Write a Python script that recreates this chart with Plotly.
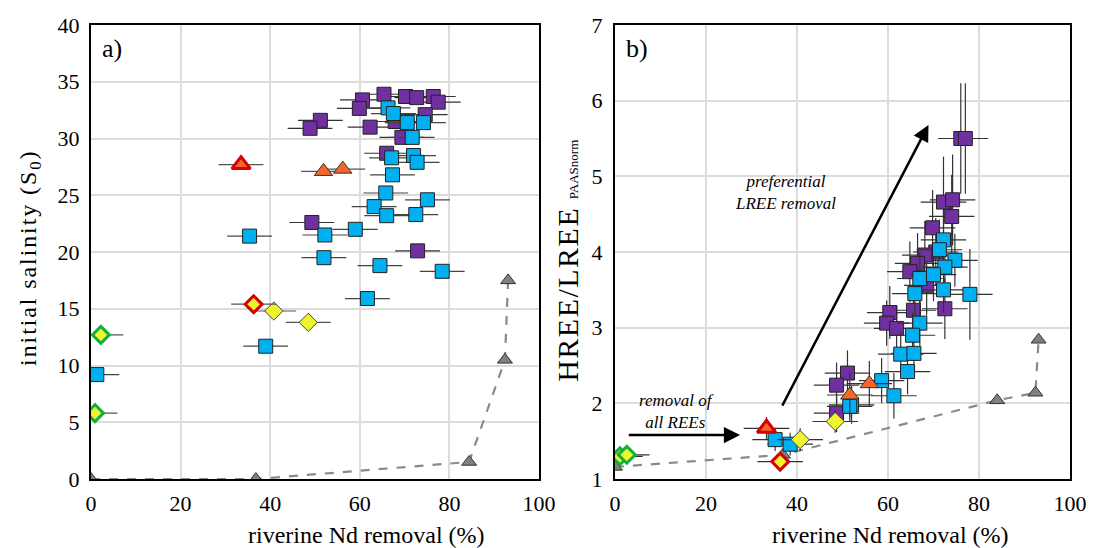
import plotly.graph_objects as go

# ---------------- panel a: initial salinity vs riverine Nd removal ----------------
a_purple_x = [51.2, 48.9, 60.6, 59.9, 65.4, 70.2, 72.7, 76.4, 77.5, 62.3, 74.6, 67.9, 69.4, 66.0, 49.3, 72.9]
a_purple_y = [31.6, 30.9, 33.4, 32.65, 33.9, 33.7, 33.6, 33.7, 33.2, 31.0, 32.1, 31.5, 30.1, 28.7, 22.6, 20.1]

a_blue_x = [66.3, 67.5, 70.6, 74.2, 71.7, 67.1, 72.0, 72.8, 67.3, 65.8, 75.1, 63.2, 66.0, 72.5,
            59.0, 52.2, 52.0, 64.5, 78.4, 61.7, 35.4, 39.0, 1.3]
a_blue_y = [32.7, 32.2, 31.4, 31.4, 30.1, 28.3, 28.5, 27.9, 26.8, 25.2, 24.6, 24.0, 23.2, 23.3,
            22.0, 21.5, 19.5, 18.8, 18.3, 15.9, 21.4, 11.7, 9.2]

a_orange_x = [51.9, 56.2]
a_orange_y = [27.1, 27.3]
a_redtri_x = [33.5]
a_redtri_y = [27.7]
a_yellow_x = [40.8, 48.5]
a_yellow_y = [14.8, 13.8]
a_reddia_x = [36.3]
a_reddia_y = [15.4]
a_green_x = [2.2, 0.9]
a_green_y = [12.7, 5.8]
a_model_x = [0.0, 36.8, 84.4, 92.4, 93.1]
a_model_y = [0.0, 0.0, 1.5, 10.5, 17.5]
a_err_x = 5.0

# ---------------- panel b: HREE/LREE vs riverine Nd removal ----------------
b_purple_x = [76.0, 77.0, 72.2, 74.2, 74.0, 69.8, 70.5, 68.1, 66.5, 64.8, 68.5, 60.4, 65.6, 72.5,
              59.7, 61.9, 51.1, 48.7, 48.7]
b_purple_y = [5.50, 5.50, 4.66, 4.69, 4.47, 4.32, 4.00, 3.96, 3.85, 3.74, 3.56, 3.20, 3.23, 3.25,
              3.06, 2.99, 2.40, 2.24, 1.87]
b_purple_ey = [0.73, 0.73, 0.60, 0.60, 0.55, 0.50, 0.45, 0.45, 0.40, 0.40, 0.40, 0.35, 0.35, 0.40,
               0.30, 0.30, 0.30, 0.30, 0.25]

b_blue_x = [72.2, 71.3, 74.7, 72.5, 67.0, 70.0, 78.0, 65.9, 72.2, 67.0, 65.4, 62.8, 65.7, 64.3,
            58.6, 61.3, 52.0, 51.6, 35.2, 38.5]
b_blue_y = [4.16, 4.03, 3.89, 3.80, 3.65, 3.70, 3.44, 3.45, 3.50, 3.06, 2.90, 2.65, 2.66, 2.42,
            2.30, 2.10, 1.98, 1.96, 1.52, 1.46]
b_blue_ey = [0.40, 0.40, 0.35, 0.35, 0.35, 0.35, 0.60, 0.30, 0.30, 0.30, 0.30, 0.30, 0.25, 0.30,
             0.30, 0.30, 0.25, 0.20, 0.15, 0.15]

b_orange_x = [55.9, 51.6]
b_orange_y = [2.26, 2.11]
b_orange_ey = [0.30, 0.30]
b_redtri_x = [33.3]
b_redtri_y = [1.67]
b_yellow_x = [40.7, 48.4]
b_yellow_y = [1.52, 1.76]
b_reddia_x = [36.3]
b_reddia_y = [1.23]
b_green_x = [1.1, 2.6]
b_green_y = [1.30, 1.32]
b_model_x = [0.0, 36.9, 84.0, 92.4, 93.1]
b_model_y = [1.16, 1.32, 2.04, 2.14, 2.84]
b_err_x = 5.0

PURPLE = "#7030a0"
BLUE = "#00b0f0"
ORANGE = "#f4662a"
YELLOW = "#eef52e"
GRAY = "#808080"
RED = "#d80000"
GREEN = "#10b040"
FONT = "Liberation Serif"

fig = go.Figure()


def add(x, y, xa, ya, symbol, size, fill, line_color, line_w, ex=None, ey=None, ecolor="#333"):
    kw = {}
    if ex is not None:
        kw["error_x"] = dict(type="constant", value=ex, color=ecolor, thickness=1.2, width=0)
    if ey is not None:
        kw["error_y"] = dict(type="data", array=ey, color=ecolor, thickness=1.2, width=0)
    fig.add_trace(go.Scatter(
        x=x, y=y, xaxis=xa, yaxis=ya, mode="markers", showlegend=False, hoverinfo="skip",
        marker=dict(symbol=symbol, size=size, color=fill, line=dict(color=line_color, width=line_w)),
        **kw))


# model curves (dashed) with grey triangles
for mx, my, xa, ya in [(a_model_x, a_model_y, "x", "y"), (b_model_x, b_model_y, "x2", "y2")]:
    fig.add_trace(go.Scatter(x=mx, y=my, xaxis=xa, yaxis=ya, mode="lines", showlegend=False,
                             hoverinfo="skip", line=dict(color="#8a8a8a", width=2.2, dash="dash")))
    add(mx, my, xa, ya, "triangle-up", 13, GRAY, "#333", 1)

# panel a
add(a_purple_x, a_purple_y, "x", "y", "square", 14, PURPLE, "#222", 1, ex=a_err_x)
add(a_blue_x, a_blue_y, "x", "y", "square", 14, BLUE, "#222", 1, ex=a_err_x, ecolor="#444")
add(a_orange_x, a_orange_y, "x", "y", "triangle-up", 16, ORANGE, "#333", 1, ex=a_err_x, ecolor="#555")
add(a_redtri_x, a_redtri_y, "x", "y", "triangle-up", 16, ORANGE, RED, 3, ex=a_err_x, ecolor="#555")
add(a_yellow_x, a_yellow_y, "x", "y", "diamond", 14, YELLOW, "#444", 1, ex=a_err_x, ecolor="#555")
add(a_reddia_x, a_reddia_y, "x", "y", "diamond", 13, YELLOW, RED, 3, ex=a_err_x, ecolor="#555")
add(a_green_x, a_green_y, "x", "y", "diamond", 13, YELLOW, GREEN, 3, ex=a_err_x, ecolor="#555")

# panel b
add(b_purple_x, b_purple_y, "x2", "y2", "square", 14, PURPLE, "#222", 1, ex=b_err_x, ey=b_purple_ey)
add(b_blue_x, b_blue_y, "x2", "y2", "square", 14, BLUE, "#222", 1, ex=b_err_x, ey=b_blue_ey)
add(b_orange_x, b_orange_y, "x2", "y2", "triangle-up", 16, ORANGE, "#333", 1, ex=b_err_x, ey=b_orange_ey)
add(b_yellow_x, b_yellow_y, "x2", "y2", "diamond", 14, YELLOW, "#444", 1, ex=b_err_x, ey=[0.15, 0.15])
add(b_redtri_x, b_redtri_y, "x2", "y2", "triangle-up", 16, ORANGE, RED, 3, ex=b_err_x, ey=[0.15])
add(b_reddia_x, b_reddia_y, "x2", "y2", "diamond", 13, YELLOW, RED, 3, ex=b_err_x, ey=[0.12])
add(b_green_x, b_green_y, "x2", "y2", "diamond", 13, YELLOW, GREEN, 3, ex=b_err_x, ey=[0.08, 0.08])

axis_common = dict(
    showline=True, linecolor="black", linewidth=2, mirror=True,
    showgrid=True, gridcolor="#dcdcdc", gridwidth=1.5, zeroline=False,
    ticks="", automargin=False,
    tickfont=dict(family=FONT, size=22, color="black"),
)

fig.update_layout(
    width=1093, height=548,
    margin=dict(l=91, r=23, t=25, b=69, autoexpand=False),
    paper_bgcolor="white", plot_bgcolor="white",
    font=dict(family=FONT, color="black"),
    xaxis=dict(domain=[0, 0.4576], range=[0, 100], dtick=20, anchor="y", ticklabelstandoff=4, **axis_common),
    yaxis=dict(domain=[0, 1], range=[0, 40], dtick=5, anchor="x", ticklabelstandoff=5, **axis_common),
    xaxis2=dict(domain=[0.5352, 1], range=[0, 100], dtick=20, anchor="y2", ticklabelstandoff=4, **axis_common),
    yaxis2=dict(domain=[0, 1], range=[1, 7], dtick=1, anchor="x2", ticklabelstandoff=6, **axis_common),
)

title_font = dict(family=FONT, size=24, color="black")
ann_font = dict(family=FONT, size=17, color="black")
fig.update_layout(annotations=[
    dict(text="a)", xref="x domain", yref="y domain", x=0.02, y=0.985, xanchor="left", yanchor="top",
         showarrow=False, font=dict(family=FONT, size=26, color="black")),
    dict(text="b)", xref="x2 domain", yref="y2 domain", x=0.02, y=0.985, xanchor="left", yanchor="top",
         showarrow=False, font=dict(family=FONT, size=26, color="black")),
    # axis titles
    dict(text="riverine Nd removal (%)", xref="paper", yref="paper", x=0.281, y=-0.123,
         xanchor="center", yanchor="middle", showarrow=False, font=title_font),
    dict(text="riverine Nd removal (%)", xref="paper", yref="paper", x=0.817, y=-0.123,
         xanchor="center", yanchor="middle", showarrow=False, font=title_font),
    dict(text="<span style='letter-spacing:1.9px'>initial salinity (S<sub>0</sub>)</span>",
         xref="paper", yref="paper", x=-0.0623, y=0.487, textangle=-90,
         xanchor="center", yanchor="middle", showarrow=False, font=title_font),
    dict(text="<span style='letter-spacing:1.5px'>HREE/LREE</span> "
              "<span style='font-size:13px'>PAASnorm</span>",
         xref="paper", yref="paper", x=0.486, y=0.48, textangle=-90,
         xanchor="center", yanchor="middle", showarrow=False,
         font=dict(family=FONT, size=30, color="black")),
    # diagonal arrow
    dict(x=68.9, y=5.68, ax=36.6, ay=1.95, xref="x2", yref="y2", axref="x2", ayref="y2",
         showarrow=True, arrowhead=2, arrowsize=1.3, arrowwidth=2.5, arrowcolor="black", text=""),
    # horizontal arrow
    dict(x=27.5, y=1.58, ax=2.7, ay=1.58, xref="x2", yref="y2", axref="x2", ayref="y2",
         showarrow=True, arrowhead=2, arrowsize=1.3, arrowwidth=2.5, arrowcolor="black", text=""),
    dict(text="<i>preferential<br>LREE removal</i>", xref="x2", yref="y2", x=37.5, y=4.79,
         showarrow=False, font=ann_font, align="center"),
    dict(text="<i>removal of<br>all REEs</i>", xref="x2", yref="y2", x=13.6, y=1.89,
         showarrow=False, font=ann_font, align="center"),
])

fig.write_html("out.html")
